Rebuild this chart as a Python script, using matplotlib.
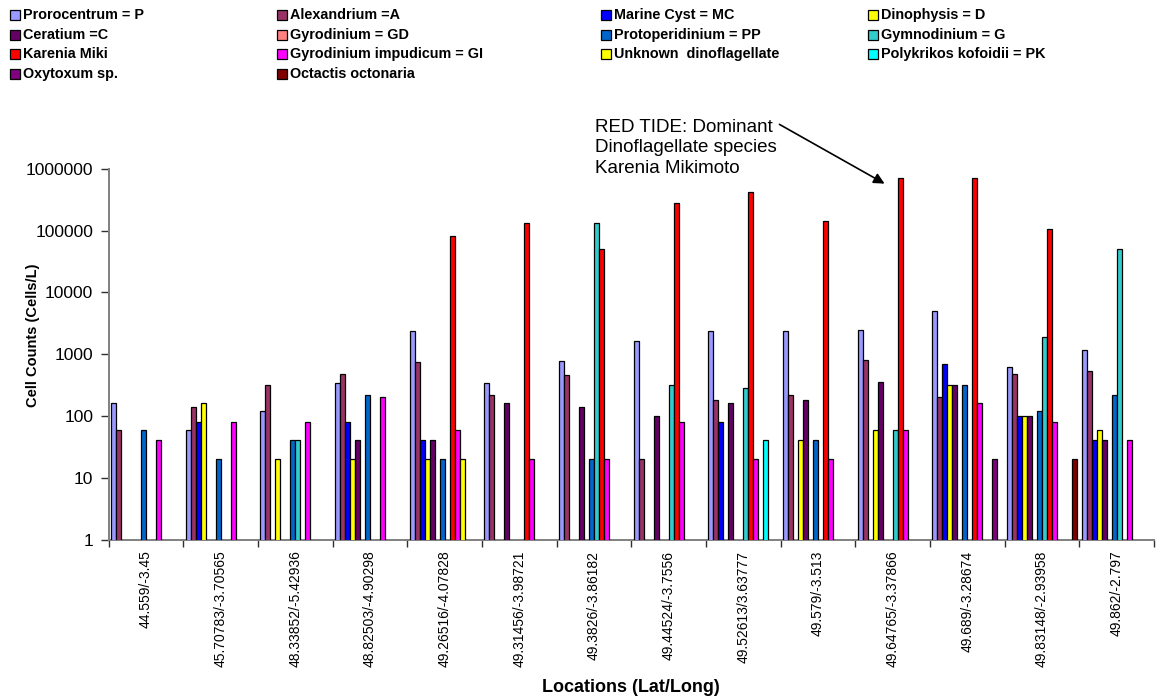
import numpy as np
import matplotlib.pyplot as plt
from matplotlib.patches import Rectangle
from matplotlib.ticker import FixedLocator, NullLocator

plt.rcParams['font.family'] = ['Liberation Sans', 'DejaVu Sans']

locations = ['44.559/-3.45', '45.70783/-3.70565', '48.33852/-5.42936', '48.82503/-4.90298',
             '49.26516/-4.07828', '49.31456/-3.98721', '49.3826/-3.86182', '49.44524/-3.7556',
             '49.52613/3.63777', '49.579/-3.513', '49.64765/-3.37866', '49.689/-3.28674',
             '49.83148/-2.93958', '49.862/-2.797']

species = ['Prorocentrum = P', 'Alexandrium =A', 'Marine Cyst = MC', 'Dinophysis = D',
           'Ceratium =C', 'Gyrodinium = GD', 'Protoperidinium = PP', 'Gymnodinium = G',
           'Karenia Miki', 'Gyrodinium impudicum = GI', 'Unknown  dinoflagellate',
           'Polykrikos kofoidii = PK', 'Oxytoxum sp.', 'Octactis octonaria']

colors = ['#9999FF', '#993366', '#0000FF', '#FFFF00', '#660066', '#FF8080', '#0066CC',
          '#33CCCC', '#FF0000', '#FF00FF', '#FFFF00', '#00FFFF', '#800080', '#800000']

# cells per litre at each location (0 = not found)
prorocentrum = [160, 60, 120, 340, 2400, 340, 780, 1600, 2400, 2350, 2500, 5000, 620, 1150]
alexandrium = [60, 140, 320, 480, 740, 220, 460, 20, 180, 220, 800, 200, 470, 540]
marine_cyst = [0, 80, 0, 80, 40, 0, 0, 0, 80, 0, 0, 700, 100, 40]
dinophysis = [0, 160, 20, 20, 20, 0, 0, 0, 0, 40, 60, 320, 100, 60]
ceratium = [0, 0, 0, 40, 40, 160, 140, 100, 160, 180, 360, 320, 100, 40]
gyrodinium = [0, 0, 0, 0, 0, 0, 0, 0, 0, 0, 0, 0, 0, 0]
protoperidinium = [60, 20, 40, 220, 20, 0, 20, 0, 0, 40, 0, 320, 120, 220]
gymnodinium = [0, 0, 40, 0, 0, 0, 130000, 320, 280, 0, 60, 0, 1900, 50000]
karenia = [0, 0, 0, 0, 82000, 130000, 50000, 280000, 420000, 140000, 700000, 700000, 105000, 0]
gyro_impudicum = [40, 80, 80, 200, 60, 20, 20, 80, 20, 20, 60, 160, 80, 40]
unknown_dino = [0, 0, 0, 0, 20, 0, 0, 0, 0, 0, 0, 0, 0, 0]
polykrikos = [0, 0, 0, 0, 0, 0, 0, 0, 40, 0, 0, 0, 0, 0]
oxytoxum = [0, 0, 0, 0, 0, 0, 0, 0, 0, 0, 0, 20, 0, 0]
octactis = [0, 0, 0, 0, 0, 0, 0, 0, 0, 0, 0, 0, 20, 0]

counts = [prorocentrum, alexandrium, marine_cyst, dinophysis, ceratium, gyrodinium,
          protoperidinium, gymnodinium, karenia, gyro_impudicum, unknown_dino,
          polykrikos, oxytoxum, octactis]

W, H = 1156, 699
fig = plt.figure(figsize=(W / 100, H / 100), dpi=100)

ax = fig.add_axes([108.5 / W, (H - 539.5) / H, 1045.5 / W, 370.8 / H])
ax.set_yscale('log')

n = len(species)
w = 1 / 14.93
x = np.arange(len(locations))
for i, (vals, col) in enumerate(zip(counts, colors)):
    v = np.array(vals, dtype=float)
    v[v == 0] = np.nan
    ax.bar(x + (i - (n - 1) / 2) * w, v, w, color=col, edgecolor='black',
           linewidth=0.9, zorder=3)

ax.set_xlim(-0.5, len(locations) - 0.5)
ax.set_ylim(1, 1000000)
yt = [1, 10, 100, 1000, 10000, 100000, 1000000]
ax.yaxis.set_major_locator(FixedLocator(yt))
ax.yaxis.set_minor_locator(NullLocator())
ax.set_yticklabels([str(t) for t in yt])
ax.tick_params(axis='y', direction='out', length=6, width=1, color='#303030',
               labelsize=12.5, pad=5)

ax.set_xticks(x)
ax.set_xticklabels(locations, rotation=90, fontsize=10)
ax.set_xticks(np.arange(-0.5, len(locations)), minor=True)
ax.tick_params(axis='x', which='major', length=0, pad=8)
ax.tick_params(axis='x', which='minor', direction='out', length=5, width=1, color='#303030')

for s in ['top', 'right']:
    ax.spines[s].set_visible(False)
for s in ['left', 'bottom']:
    ax.spines[s].set_color('#808080')
    ax.spines[s].set_linewidth(1.4)

fig.text(631 / W, 1 - 687 / H, 'Locations (Lat/Long)', fontsize=13, fontweight='bold',
         ha='center', va='center')
fig.text(33 / W, 1 - 335 / H, 'Cell Counts (Cells/L)', fontsize=10.5, fontweight='bold',
         rotation=90, ha='center', va='center')

# red tide note with arrow to the bloom station
fig.text(595 / W, 1 - 119 / H, 'RED TIDE: Dominant\nDinoflagellate species\nKarenia Mikimoto',
         fontsize=13.5, ha='left', va='top', linespacing=1.26)
ax.annotate('', xy=(887, H - 185), xycoords='figure pixels',
            xytext=(777, H - 123), textcoords='figure pixels',
            arrowprops=dict(arrowstyle='-|>', color='black', lw=1.2, mutation_scale=16))

# legend, four columns filled row by row
col_x = [10, 277, 601, 868]
for i, (name, col) in enumerate(zip(species, colors)):
    r, c = divmod(i, 4)
    yc = 15 + 19.7 * r
    fig.add_artist(Rectangle((col_x[c] / W, 1 - (yc + 5) / H), 10 / W, 10 / H,
                             transform=fig.transFigure, facecolor=col,
                             edgecolor='black', linewidth=0.9))
    fig.text((col_x[c] + 13) / W, 1 - yc / H, name, fontsize=10.4, fontweight='bold',
             ha='left', va='center')

fig.savefig('out.png', dpi=100, facecolor='white')
